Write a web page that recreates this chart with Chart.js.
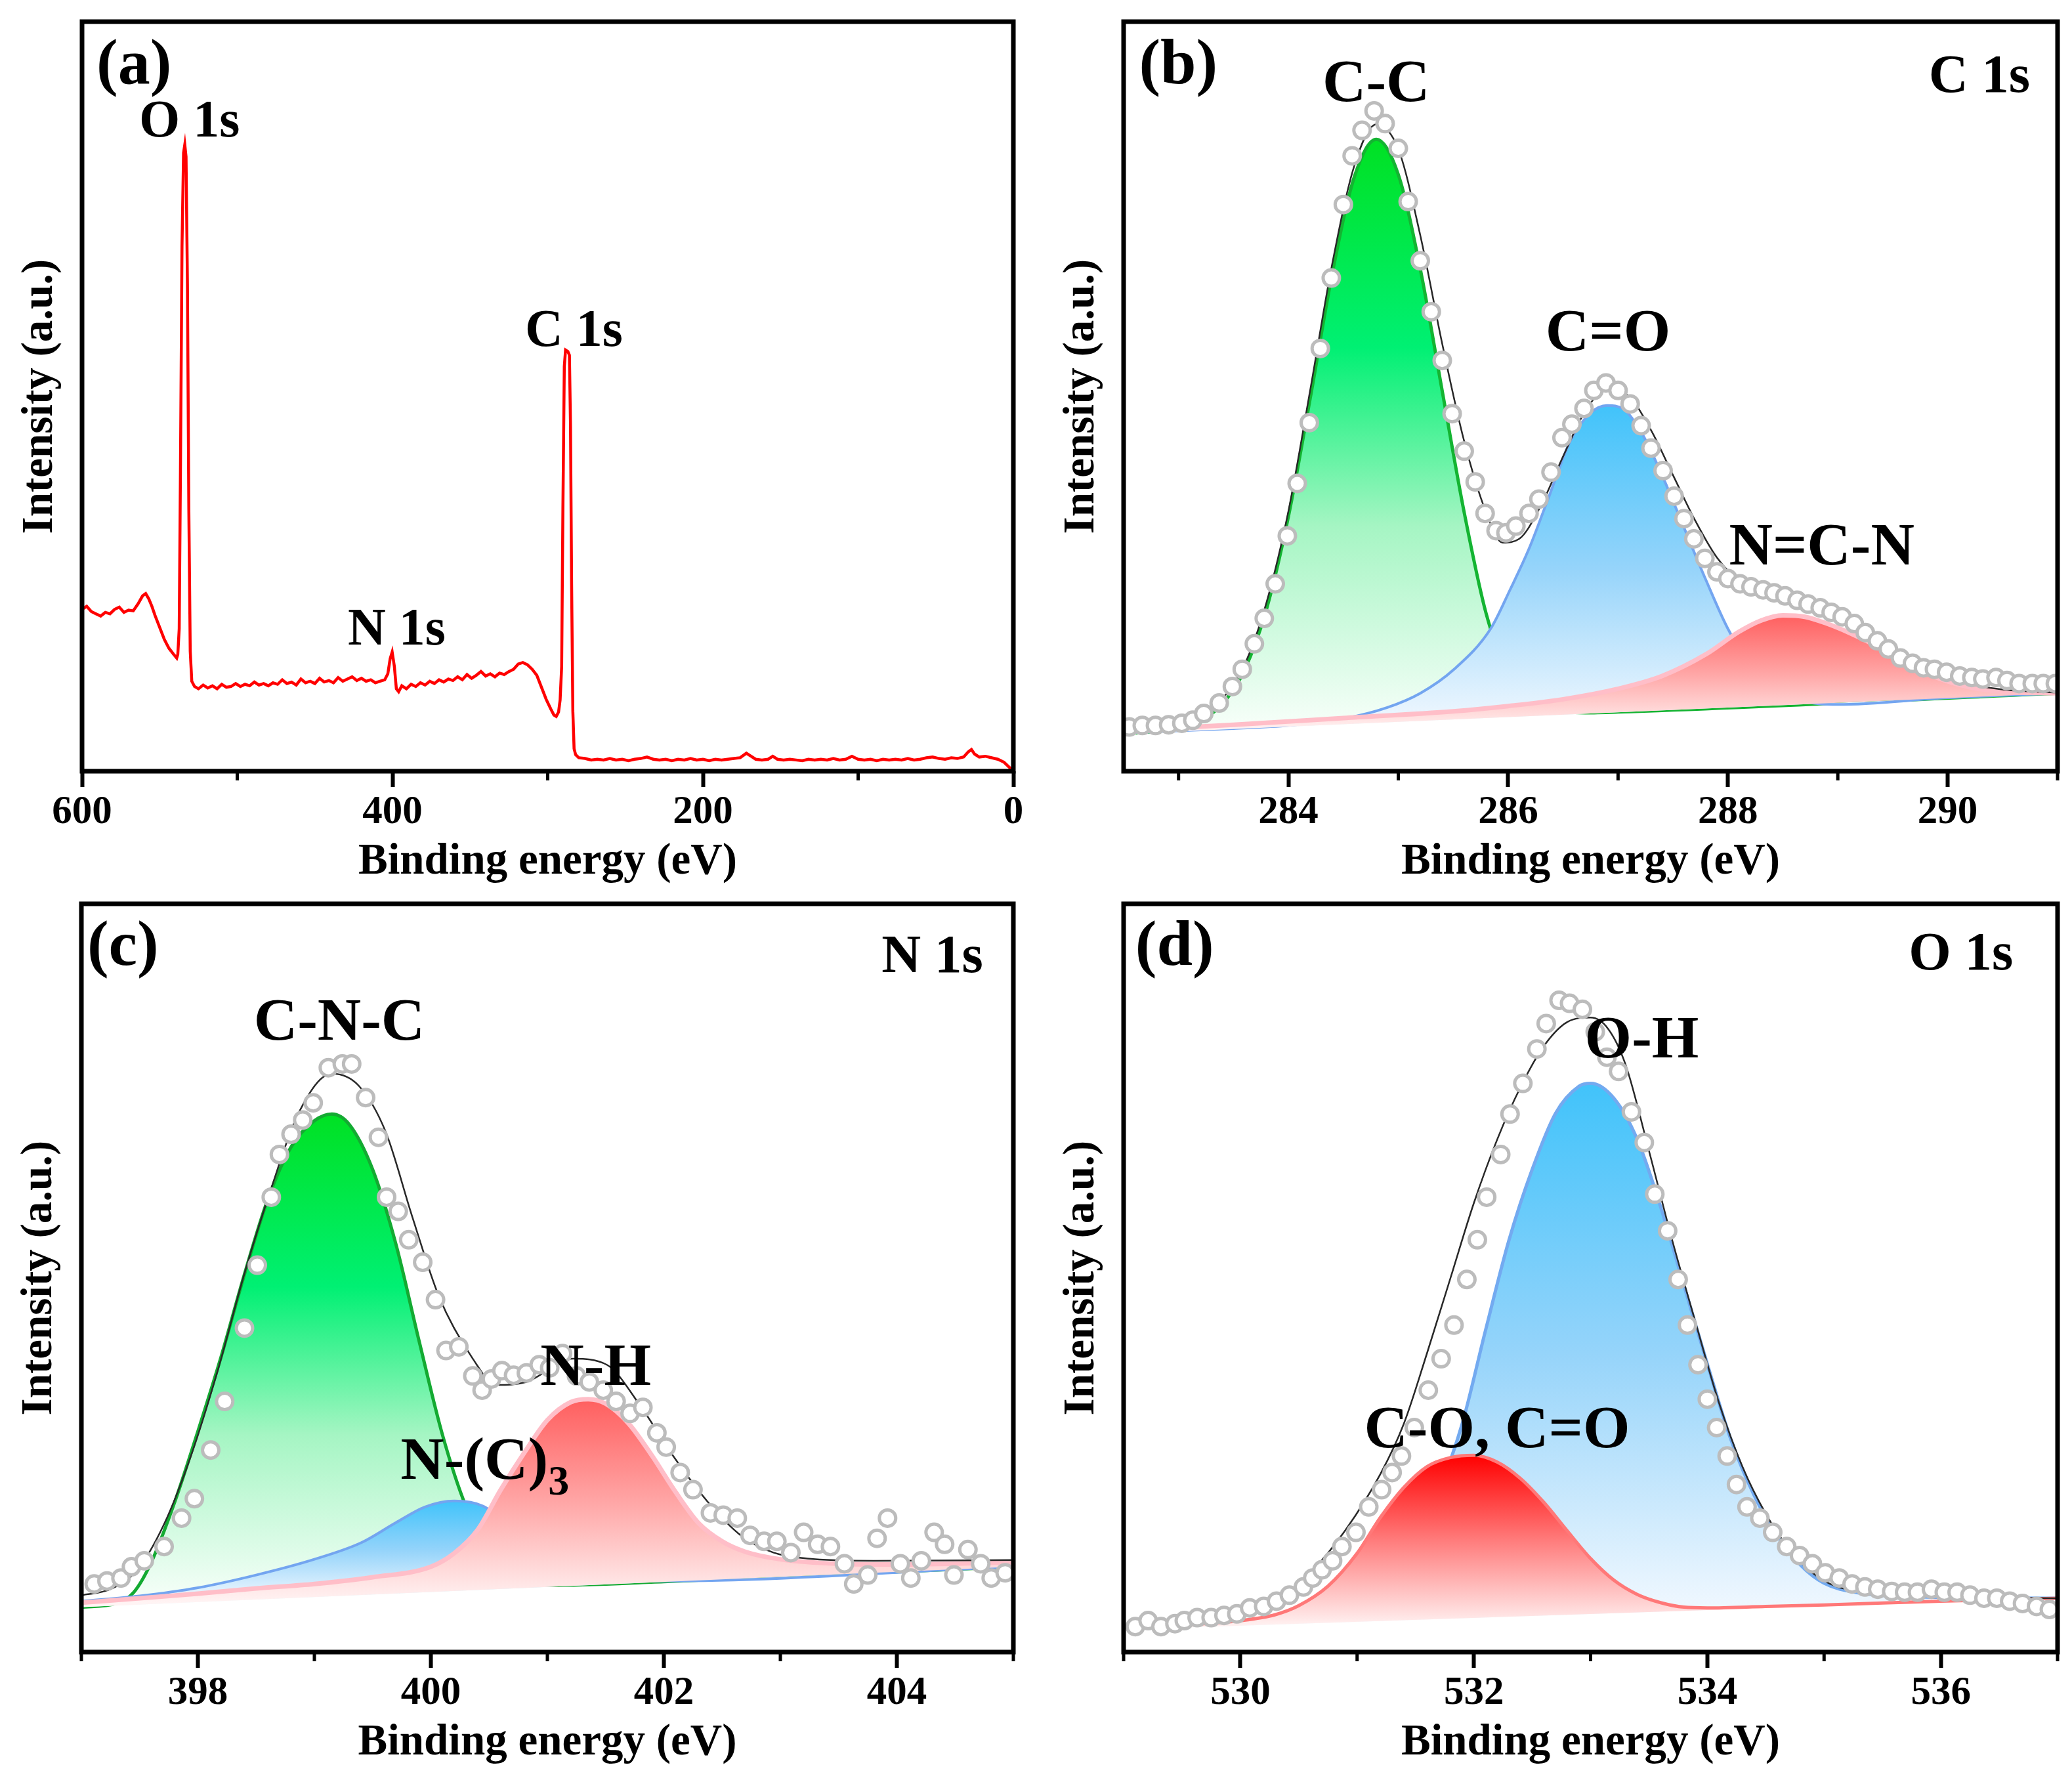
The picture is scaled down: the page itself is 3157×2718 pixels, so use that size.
<!DOCTYPE html>
<html>
<head>
<meta charset="utf-8">
<script src="https://cdn.jsdelivr.net/npm/chart.js@4.4.1/dist/chart.umd.min.js"></script>
<style>
  html, body { margin: 0; padding: 0; background: #fff; }
  body { width: 3157px; height: 2718px; position: relative; overflow: hidden; }
  .panel { position: absolute; }
</style>
</head>
<body>
<div class="panel" style="left:0;top:0;width:1578px;height:1359px"><canvas id="chartA"></canvas></div>
<div class="panel" style="left:1578px;top:0;width:1579px;height:1359px"><canvas id="chartB"></canvas></div>
<div class="panel" style="left:0;top:1359px;width:1578px;height:1359px"><canvas id="chartC"></canvas></div>
<div class="panel" style="left:1578px;top:1359px;width:1579px;height:1359px"><canvas id="chartD"></canvas></div>
<script>
// XPS spectra: survey, C 1s, N 1s, O 1s  (y = % of frame height, arbitrary units)

// ---- (a) survey ----
const surveyData = [
  [600,21.6],[597,22.0],[594,21.3],[591,21.0],[588,20.7],[585,21.2],[582,21.0],[579,21.6],[576,21.9],[573,21.2],
  [570,21.5],[567,21.4],[564,22.3],[561,23.4],[559,23.7],[557,23.0],[555,22.0],[553,20.8],[550,19.2],[547,17.6],
  [544,16.4],[541,15.6],[539,15.1],[538.3,15.6],[537.4,19],[536.6,40],[535.6,70],[534.6,82.5],[533.8,83.6],[533,82],
  [532.1,65],[531.2,35],[530.3,16],[529.3,12],[527.5,11.3],[525,11.0],[522,11.5],[519,11.1],[516,11.4],[513,11.0],
  [510,11.6],[507,11.2],[504,11.3],[501,11.7],[498,11.3],[495,11.6],[492,11.4],[489,11.9],[486,11.5],[483,11.7],
  [480,11.4],[477,11.8],[474,11.6],[471,12.2],[468,11.7],[465,11.9],[462,11.5],[459,12.3],[456,11.8],[453,12.0],
  [450,11.7],[447,12.4],[444,11.9],[441,12.1],[438,11.8],[435,12.5],[432,12.0],[429,12.3],[426,12.6],[423,12.1],
  [420,12.4],[417,12.0],[414,12.2],[411,11.8],[408,12.0],[405,12.2],[403,13.0],[401.5,15.0],[400.2,15.9],[398.8,14.0],
  [397.5,11.0],[396,10.6],[394,11.4],[391,11.0],[388,11.6],[385,11.3],[382,11.8],[379,11.5],[376,12.0],[373,11.7],
  [370,12.2],[367,11.9],[364,12.3],[361,12.1],[358,12.6],[355,12.2],[352,12.9],[349,12.4],[346,12.8],[343,13.3],
  [340,12.7],[337,13.0],[334,12.6],[331,13.1],[328,12.9],[325,13.3],[322,13.6],[319,14.3],[316,14.5],[313,14.2],
  [310,13.6],[307,12.8],[304,11.2],[301,9.6],[298,8.3],[296,7.5],[294.5,7.3],[293,7.9],[292,9.5],[291,14],
  [290.2,35],[289.3,54],[288.5,56.2],[287,56.0],[286,55.5],[285.3,46],[284.6,25],[283.8,8],[283,3],[282,2.2],
  [280,1.8],[276,1.7],[272,1.5],[268,1.6],[264,1.5],[260,1.7],[256,1.5],[252,1.6],[248,1.4],[244,1.6],
  [240,1.7],[236,1.9],[232,1.6],[228,1.5],[224,1.6],[220,1.4],[216,1.6],[212,1.5],[208,1.7],[204,1.5],
  [200,1.6],[196,1.4],[192,1.6],[188,1.5],[184,1.6],[180,1.7],[176,1.8],[172,2.4],[169,2.0],[166,1.6],
  [162,1.5],[158,1.6],[155,2.0],[152,1.6],[148,1.5],[144,1.6],[140,1.5],[136,1.4],[132,1.6],[128,1.5],
  [124,1.6],[120,1.5],[116,1.7],[112,1.5],[108,1.6],[104,2.0],[100,1.6],[96,1.5],[92,1.6],[88,1.4],
  [84,1.6],[80,1.5],[76,1.6],[72,1.5],[68,1.7],[64,1.5],[60,1.6],[56,1.8],[52,1.9],[48,1.7],
  [44,1.6],[40,1.8],[36,1.7],[32,1.9],[29,2.6],[27,2.9],[25,2.3],[22,1.9],[18,2.0],[14,1.8],
  [10,1.6],[6,1.2],[3,0.6],[0,0.0]
];
const ticksA = [600, 400, 200, 0];
const minorA = [500, 300, 100];

// ---- (b) C 1s ----
const c1sBase = [[282.5,5.0],[291,10.4]];
const c1sCC = [[282.5,5.0],[283.0,5.7],[283.2,6.7],[283.4,9.0],[283.6,13.5],[283.8,21.6],[284.0,34.0],[284.2,49.9],
  [284.4,66.5],[284.6,79.3],[284.8,84.3],[285.0,79.6],[285.2,67.0],[285.4,50.7],[285.6,34.5],[285.8,21.0],
  [286.0,13.0],[286.2,9.8],[286.4,8.3],[286.7,7.8],[287.0,7.9],[291,10.4]];
const c1sCO = [[282.5,5.1],[283.5,5.7],[284.0,6.1],[284.5,7.0],[284.9,8.5],[285.2,10.4],[285.5,13.5],[285.84,19.0],
  [286.02,24.3],[286.19,29.7],[286.36,36.2],[286.57,44.2],[286.75,47.8],[286.9,48.8],[287.05,48.3],[287.22,45.0],
  [287.4,39.5],[287.6,32.5],[287.8,25.5],[288.0,19.0],[288.2,14.2],[288.4,11.2],[288.7,9.3],[289.0,8.9],[290,9.8],[291,10.4]];
const c1sNCN = [[282.5,5.4],[283.5,6.2],[284.5,7.1],[285.5,8.0],[286.0,8.7],[286.5,9.6],[287.0,11.0],[287.4,12.7],
  [287.8,15.6],[288.1,18.6],[288.3,20.1],[288.5,20.8],[288.7,20.6],[288.9,19.7],[289.1,18.5],[289.3,17.1],
  [289.5,15.5],[289.7,13.9],[289.9,12.5],[290.2,11.2],[290.5,10.6],[291,10.4]];
const c1sFit = [[282.5,5.5],[283.0,6.5],[283.4,9.7],[283.6,14.2],[283.8,22.5],[284.0,34.7],[284.2,51.0],[284.4,67.8],
  [284.6,80.8],[284.8,86.3],[285.0,83.0],[285.2,71.5],[285.4,57.0],[285.6,44.0],[285.8,34.5],[285.95,30.5],
  [286.1,31.0],[286.3,35.5],[286.5,42.0],[286.7,48.0],[286.9,51.0],[287.1,50.0],[287.3,45.5],[287.5,39.5],
  [287.7,33.5],[287.9,28.5],[288.1,25.5],[288.3,24.5],[288.5,23.8],[288.7,22.8],[288.9,21.5],[289.1,19.6],
  [289.3,17.8],[289.5,15.8],[289.7,14.1],[289.9,12.8],[290.2,11.6],[290.5,10.9],[291.0,10.5]];
const c1sRaw = [[282.55,5.9],[282.67,6.1],[282.79,6.1],[282.91,6.2],[283.03,6.4],[283.13,6.8],[283.23,7.7],[283.37,9.1],
  [283.49,11.3],[283.58,13.6],[283.69,17.0],[283.78,20.4],[283.88,25.0],[283.99,31.4],[284.08,38.4],[284.19,46.5],
  [284.29,56.4],[284.39,65.8],[284.50,75.6],[284.58,82.1],[284.67,85.5],[284.78,88.1],[284.88,86.4],[285.00,83.1],
  [285.09,76.0],[285.20,68.1],[285.30,61.3],[285.40,54.8],[285.49,47.7],[285.60,42.7],[285.70,38.6],[285.79,34.4],
  [285.89,32.1],[285.98,31.8],[286.07,32.7],[286.19,34.4],[286.28,36.3],[286.39,39.9],[286.49,44.5],[286.58,46.3],
  [286.69,48.4],[286.78,50.8],[286.89,51.8],[287.00,50.8],[287.11,49.0],[287.21,46.1],[287.30,43.1],[287.41,40.1],
  [287.51,36.7],[287.60,33.7],[287.69,31.0],[287.79,28.4],[287.90,26.6],[288.00,25.7],[288.11,25.0],[288.21,24.6],
  [288.32,24.2],[288.42,23.8],[288.52,23.4],[288.63,22.8],[288.73,22.3],[288.84,21.8],[288.94,21.2],[289.04,20.6],
  [289.15,19.7],[289.25,18.5],[289.36,17.4],[289.46,16.3],[289.57,15.1],[289.68,14.4],[289.78,13.8],[289.88,13.6],
  [289.99,13.2],[290.11,12.7],[290.22,12.5],[290.32,12.3],[290.44,12.5],[290.54,12.1],[290.65,11.7],[290.77,11.7],
  [290.87,11.7],[290.98,11.7]];
const ticksB = [284, 286, 288, 290];
const minorB = [283, 285, 287, 289, 291];

// ---- (c) N 1s ----
const n1sBase = [[397,6.0],[405,11.4]];
const n1sCNC = [[397.0,6.0],[397.3,6.5],[397.45,8.0],[397.6,12.0],[397.8,20.0],[398.0,29.5],[398.2,39.5],[398.4,50.5],
  [398.6,60.5],[398.8,67.5],[399.0,71.0],[399.15,71.9],[399.3,70.5],[399.5,64.5],[399.7,54.5],[399.9,41.5],
  [400.1,29.0],[400.3,19.5],[400.5,13.5],[400.7,10.5],[401.0,8.9],[402.0,9.4],[405.0,11.4]];
const n1sNC3 = [[397.0,6.8],[397.5,7.5],[398.0,8.6],[398.5,10.3],[399.0,12.4],[399.4,14.6],[399.7,17.3],[399.95,19.4],
  [400.2,20.2],[400.45,19.5],[400.7,16.5],[401.0,12.5],[401.4,10.0],[402.0,9.5],[405.0,11.4]];
const n1sNH = [[397.0,6.6],[397.5,7.2],[398.0,7.8],[398.5,8.5],[399.0,9.1],[399.5,10.0],[400.0,11.4],[400.2,13.2],
  [400.4,16.3],[400.6,21.7],[400.8,26.6],[401.0,31.0],[401.2,33.4],[401.35,33.8],[401.5,33.2],[401.7,30.5],
  [401.9,26.2],[402.1,21.4],[402.3,17.2],[402.5,14.8],[402.7,13.4],[403.0,12.4],[403.5,11.8],[404.0,11.7],[405.0,12.0]];
const n1sFit = [[397.0,7.6],[397.25,8.4],[397.48,11.0],[397.71,17.1],[397.94,26.2],[398.17,37.6],[398.40,50.6],
  [398.63,62.0],[398.86,71.9],[399.15,77.3],[399.38,75.7],[399.61,69.6],[399.84,58.2],[400.07,47.5],[400.36,39.2],
  [400.56,35.7],[400.82,36.1],[401.22,39.2],[401.51,38.4],[401.79,33.1],[402.08,26.2],[402.37,20.2],[402.66,15.6],
  [402.94,13.3],[403.23,12.5],[403.80,12.2],[405.0,12.3]];
const n1sRaw = [[397.11,9.1],[397.22,9.5],[397.34,9.9],[397.43,11.4],[397.54,12.2],[397.71,14.1],[397.86,17.9],[397.97,20.5],
  [398.11,27.0],[398.23,33.5],[398.40,43.3],[398.51,51.7],[398.63,60.8],[398.70,66.5],[398.80,69.2],[398.90,71.1],
  [398.99,73.4],[399.12,78.1],[399.24,78.6],[399.32,78.6],[399.44,74.1],[399.55,68.8],[399.62,60.8],[399.72,58.9],
  [399.81,55.1],[399.93,52.1],[400.04,47.1],[400.13,40.3],[400.24,40.8],[400.36,36.9],[400.44,35.0],[400.52,36.5],
  [400.61,37.6],[400.71,37.0],[400.82,37.3],[400.93,38.4],[401.02,38.0],[401.13,39.9],[401.25,36.9],[401.36,36.1],
  [401.48,35.0],[401.59,33.5],[401.71,31.9],[401.82,32.7],[401.94,29.3],[402.02,27.4],[402.14,24.0],[402.25,21.7],
  [402.40,18.6],[402.51,18.3],[402.63,17.9],[402.74,15.6],[402.86,14.8],[402.97,14.8],[403.09,13.3],[403.20,16.0],
  [403.32,14.4],[403.43,14.1],[403.55,11.8],[403.63,9.1],[403.75,10.3],[403.83,15.2],[403.92,17.9],[404.03,11.8],
  [404.12,9.9],[404.21,12.2],[404.32,16.0],[404.41,14.4],[404.49,10.3],[404.61,13.7],[404.72,11.8],[404.81,9.9],
  [404.93,10.6]];
const ticksC = [398, 400, 402, 404];
const minorC = [397, 399, 401, 403, 405];

// ---- (d) O 1s ----
const o1sBase = [[529,3.0],[537,7.2]];
const o1sOH = [[529.0,3.4],[529.5,3.7],[530.0,4.1],[530.5,4.8],[531.0,6.8],[531.4,11.5],[531.7,21.5],[531.9,30.5],
  [532.1,43.0],[532.3,55.0],[532.5,64.5],[532.7,72.0],[532.9,75.6],[533.0,76.0],[533.2,74.0],[533.4,68.5],
  [533.6,59.5],[533.8,49.0],[534.0,38.5],[534.2,28.5],[534.4,21.0],[534.6,15.5],[534.8,11.6],[535.0,9.2],
  [535.3,7.9],[535.6,7.5],[536.0,7.3],[537.0,7.2]];
const o1sCO = [[529.0,3.3],[529.5,3.6],[530.0,4.2],[530.3,5.0],[530.5,6.2],[530.75,8.8],[531.0,13.2],[531.2,18.0],
  [531.4,22.0],[531.6,24.8],[531.8,26.0],[532.0,26.3],[532.2,25.4],[532.4,23.2],[532.6,20.0],[532.8,16.2],
  [533.0,12.5],[533.2,9.6],[533.4,7.7],[533.6,6.6],[533.8,6.0],[534.0,5.9],[534.5,6.1],[535,6.3],[536,6.8],[537,7.2]];
const o1sFit = [[529.0,3.5],[529.5,4.0],[530.0,4.9],[530.3,6.5],[530.6,10.6],[530.9,16.3],[531.2,23.8],[531.4,30.5],
  [531.6,40.0],[531.8,50.0],[532.0,60.0],[532.2,68.5],[532.4,75.5],[532.6,81.0],[532.8,84.2],[533.0,84.8],
  [533.15,83.3],[533.3,78.5],[533.5,67.0],[533.7,55.0],[533.9,44.0],[534.1,33.3],[534.3,24.8],[534.5,18.5],
  [534.7,13.8],[534.9,10.6],[535.1,8.8],[535.4,7.9],[536.0,7.4],[537.0,7.2]];
const o1sRaw = [[529.10,3.4],[529.21,4.2],[529.32,3.4],[529.44,3.8],[529.52,4.2],[529.63,4.6],[529.75,4.6],[529.86,4.9],
  [529.97,5.1],[530.08,5.9],[530.20,6.1],[530.31,6.8],[530.42,7.6],[530.54,8.7],[530.62,9.9],[530.70,11.0],
  [530.79,12.2],[530.87,14.1],[530.99,16.0],[531.10,19.4],[531.21,21.7],[531.30,24.0],[531.38,26.2],[531.49,30.0],
  [531.61,35.0],[531.72,39.2],[531.83,43.7],[531.94,49.8],[532.03,55.1],[532.11,60.8],[532.23,66.5],[532.31,71.9],
  [532.42,76.0],[532.54,80.6],[532.62,84.0],[532.73,87.1],[532.82,86.7],[532.93,85.9],[533.04,82.9],[533.14,79.5],
  [533.24,77.6],[533.35,72.2],[533.46,68.1],[533.55,61.2],[533.66,56.3],[533.75,49.8],[533.83,43.7],[533.92,38.4],
  [534.00,33.8],[534.08,30.0],[534.17,26.2],[534.25,22.4],[534.34,19.4],[534.45,17.9],[534.56,16.0],[534.68,14.1],
  [534.79,12.9],[534.90,11.8],[535.01,10.6],[535.13,9.9],[535.24,9.1],[535.35,8.7],[535.46,8.4],[535.58,8.1],
  [535.69,8.0],[535.80,8.0],[535.92,8.4],[536.03,8.0],[536.14,8.0],[536.25,7.6],[536.37,7.2],[536.48,7.2],
  [536.59,6.8],[536.70,6.5],[536.82,6.1],[536.93,5.7]];
const ticksD = [530, 532, 534, 536];
const minorD = [529, 531, 533, 535, 537];

// ---- text on the plots (x in eV, y in %) ----
const labelsA = [
  {text: '(a)', x: 590.7, y: 91.8, size: 98},
  {text: 'O 1s', x: 563.2, y: 84.7, size: 80},
  {text: 'C 1s', x: 314.6, y: 56.7, size: 80},
  {text: 'N 1s', x: 428.8, y: 16.9, size: 80}
];
const labelsB = [
  {text: '(b)', x: 282.64, y: 91.8, size: 98},
  {text: 'C 1s', x: 290.75, y: 90.6, size: 83, align: 'right'},
  {text: 'C-C', x: 284.31, y: 89.4, size: 92},
  {text: 'C=O', x: 286.34, y: 56.1, size: 92},
  {text: 'N=C-N', x: 288.01, y: 27.6, size: 92}
];
const labelsC = [
  {text: '(c)', x: 397.05, y: 91.8, size: 98},
  {text: 'N 1s', x: 404.74, y: 90.9, size: 83, align: 'right'},
  {text: 'C-N-C', x: 398.48, y: 81.8, size: 92},
  {text: 'N-H', x: 400.94, y: 35.7, size: 92},
  {text: 'N-(C)', sub: '3', x: 399.74, y: 23.2, size: 92}
];
const labelsD = [
  {text: '(d)', x: 529.10, y: 91.8, size: 98},
  {text: 'O 1s', x: 536.62, y: 91.2, size: 83, align: 'right'},
  {text: 'O-H', x: 532.95, y: 79.5, size: 92},
  {text: 'C-O, C=O', x: 531.06, y: 27.4, size: 92}
];

const SERIF = '"Liberation Serif", "Times New Roman", Times, serif';
const greenStops = [[0, 'rgb(0,225,35)'], [0.35, 'rgb(0,240,115)'], [0.65, 'rgb(165,245,195)'], [1, 'rgb(250,255,251)']];
const blueStops = [[0, 'rgb(65,195,250)'], [0.5, 'rgb(150,212,250)'], [1, 'rgb(246,250,255)']];
const pinkStops = [[0, 'rgb(255,95,95)'], [0.5, 'rgb(255,165,165)'], [1, 'rgb(255,244,244)']];
const redStops = [[0, 'rgb(255,0,0)'], [0.5, 'rgb(255,125,125)'], [1, 'rgb(255,244,244)']];

const xy = arr => arr.map(([x, y]) => ({x, y}));

// vertical gradient from the top of a peak down to its foot
function shade(stops) {
    return (context) => {
        const chart = context.chart;
        if (!chart.chartArea || !chart.scales.y) return stops[0][1];
        const ys = context.dataset.data.map(p => p.y);
        const top = chart.scales.y.getPixelForValue(Math.max(...ys));
        const bot = chart.scales.y.getPixelForValue(Math.min(...ys));
        const g = chart.ctx.createLinearGradient(0, top, 0, bot);
        stops.forEach(([o, c]) => g.addColorStop(o, c));
        return g;
    };
}

const framePlugin = {
    id: 'frame',
    afterDraw(chart, args, opts) {
        const {ctx, chartArea: a, scales: {x}} = chart;
        ctx.save();
        ctx.strokeStyle = '#000';
        ctx.lineWidth = 7;
        ctx.strokeRect(a.left, a.top, a.right - a.left, a.bottom - a.top);
        ctx.lineWidth = 5;
        (opts.minor || []).forEach(v => {
            const px = x.getPixelForValue(v);
            ctx.beginPath();
            ctx.moveTo(px, a.bottom);
            ctx.lineTo(px, a.bottom + 14);
            ctx.stroke();
        });
        ctx.restore();
    }
};

const textPlugin = {
    id: 'peakText',
    afterDraw(chart, args, opts) {
        const {ctx, scales: {x, y}} = chart;
        ctx.save();
        ctx.fillStyle = '#000';
        ctx.textBaseline = 'alphabetic';
        (opts.items || []).forEach(t => {
            ctx.font = `bold ${t.size}px ${SERIF}`;
            ctx.textAlign = t.align || 'left';
            const px = x.getPixelForValue(t.x);
            const py = y.getPixelForValue(t.y);
            ctx.fillText(t.text, px, py);
            if (t.sub) {
                const w = ctx.measureText(t.text).width;
                ctx.font = `bold ${Math.round(t.size * 0.7)}px ${SERIF}`;
                ctx.fillText(t.sub, px + w, py + t.size * 0.27);
            }
        });
        ctx.restore();
    }
};

const curve = (data, color, width, order) => ({
    data: xy(data), borderColor: color, borderWidth: width, pointRadius: 0,
    fill: false, cubicInterpolationMode: 'monotone', order
});
const peak = (data, color, width, stops, order) => Object.assign(curve(data, color, width, order), {
    fill: 0, backgroundColor: shade(stops)
});
const dots = (data) => ({
    data: xy(data), showLine: false, pointRadius: 12.5, pointBorderWidth: 5,
    pointBorderColor: 'rgb(188,188,188)', pointBackgroundColor: '#fff', order: 1
});

function makePanel(id, p) {
    const tickFont = {family: SERIF, size: 61, weight: 'bold'};
    const titleFont = {family: SERIF, size: 67, weight: 'bold'};
    return new Chart(document.getElementById(id), {
        type: 'line',
        data: {datasets: p.datasets},
        options: {
            responsive: true,
            maintainAspectRatio: false,
            animation: false,
            devicePixelRatio: 1,
            layout: {padding: p.pad},
            plugins: {
                legend: {display: false},
                tooltip: {enabled: false},
                frame: {minor: p.minor},
                peakText: {items: p.labels}
            },
            scales: {
                x: {
                    type: 'linear', min: p.min, max: p.max, reverse: !!p.reverse, bounds: 'data',
                    afterBuildTicks: s => { s.ticks = p.ticks.map(v => ({value: v})); },
                    afterFit: s => { s.height = p.xH; },
                    grid: {display: true, drawOnChartArea: false, drawTicks: true, tickLength: 24, tickWidth: 6, tickColor: '#000'},
                    border: {display: false},
                    ticks: {color: '#000', font: tickFont, padding: 3, maxRotation: 0, autoSkip: false},
                    title: {display: true, text: 'Binding energy (eV)', color: '#000', font: titleFont,
                        padding: {top: 0, bottom: p.xH - 139 - 40.2}}
                },
                y: {
                    type: 'linear', min: 0, max: 100,
                    afterFit: s => { s.width = p.yW; },
                    grid: {display: false},
                    border: {display: false},
                    ticks: {display: false},
                    title: {display: true, text: 'Intensity (a.u.)', color: '#000',
                        font: {family: SERIF, size: 67, weight: 'bold'},
                        padding: {top: p.yW - 63 - 40.2, bottom: 0}}
                }
            }
        },
        plugins: [framePlugin, textPlugin]
    });
}

makePanel('chartA', {
    min: 0, max: 600, reverse: true, ticks: ticksA, minor: minorA, labels: labelsA,
    pad: {top: 33, right: 34, left: 0, bottom: 0}, yW: 125, xH: 184,
    datasets: [{data: xy(surveyData), borderColor: 'rgb(255,0,0)', borderWidth: 4.5, pointRadius: 0, fill: false, tension: 0}]
});

makePanel('chartB', {
    min: 282.5, max: 291, ticks: ticksB, minor: minorB, labels: labelsB,
    pad: {top: 33, right: 22, left: 0, bottom: 0}, yW: 134, xH: 184,
    datasets: [
        curve(c1sBase, 'rgba(0,0,0,0)', 0, 9),
        peak(c1sCC, 'rgb(20,180,50)', 5, greenStops, 5),
        peak(c1sCO, 'rgb(115,165,240)', 4, blueStops, 4),
        peak(c1sNCN, 'rgb(255,190,200)', 7, pinkStops, 3),
        curve(c1sFit, 'rgb(40,40,40)', 2.5, 2),
        dots(c1sRaw)
    ]
});

makePanel('chartC', {
    min: 397, max: 405, ticks: ticksC, minor: minorC, labels: labelsC,
    pad: {top: 18, right: 34, left: 0, bottom: 0}, yW: 124, xH: 201,
    datasets: [
        curve(n1sBase, 'rgba(0,0,0,0)', 0, 9),
        peak(n1sCNC, 'rgb(20,170,50)', 5, greenStops, 5),
        peak(n1sNC3, 'rgb(115,165,240)', 4, blueStops, 4),
        peak(n1sNH, 'rgb(255,190,200)', 7, pinkStops, 3),
        curve(n1sFit, 'rgb(40,40,40)', 2.5, 2),
        dots(n1sRaw)
    ]
});

makePanel('chartD', {
    min: 529, max: 537, ticks: ticksD, minor: minorD, labels: labelsD,
    pad: {top: 18, right: 22, left: 0, bottom: 0}, yW: 134, xH: 201,
    datasets: [
        curve(o1sBase, 'rgba(0,0,0,0)', 0, 9),
        peak(o1sOH, 'rgb(115,170,240)', 5, blueStops, 5),
        peak(o1sCO, 'rgb(255,120,120)', 5, redStops, 4),
        curve(o1sFit, 'rgb(40,40,40)', 2.5, 2),
        dots(o1sRaw)
    ]
});
</script>
</body>
</html>
